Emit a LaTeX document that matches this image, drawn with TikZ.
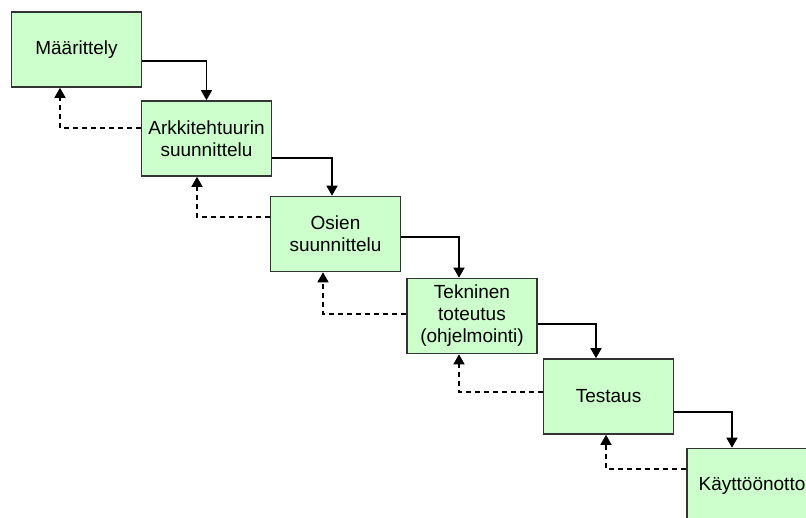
\documentclass[tikz,border=0pt]{standalone}
\usepackage{fontspec}
\setmainfont{Liberation Sans}
\usetikzlibrary{arrows.meta}

\definecolor{boxgreen}{RGB}{204,255,204}

\begin{document}
\begin{tikzpicture}[
		x=1pt, y=-1pt,
		phase/.style = {draw=black!80, fill=boxgreen, line width=1.6pt,
			minimum width=130pt, minimum height=75pt, inner sep=2pt,
			align=center, font=\fontsize{19}{22}\selectfont},
		flow/.style = {line width=1.5pt, -{Triangle[width=11pt,length=10pt]}},
		back/.style = {flow, dash pattern=on 5pt off 4pt}
	]
	\useasboundingbox (0,0) rectangle (806,517);
	\clip (0,0) rectangle (806,517);
	% Phases.
	\node[phase] (maar) at (76.5,49.5) {Määrittely};
	\node[phase] (arkk) at (206.5,138.5) {Arkkitehtuurin\\suunnittelu};
	\node[phase] (osie) at (335.5,234) {Osien\\suunnittelu};
	\node[phase] (tekn) at (472,316) {Tekninen\\toteutus\\(ohjelmointi)};
	\node[phase] (test) at (608.5,396.5) {Testaus};
	\node[phase] (kayt) at (752,486) {Käyttöönotto};
	
	% Forward.
	\draw[flow] ([yshift=-11.5pt]maar.east) -| (arkk.north);
	\draw[flow] ([yshift=-19.5pt]arkk.east) -| ([xshift=-3.5pt]osie.north);
	\draw[flow] ([yshift=-3pt]osie.east) -| ([xshift=-13pt]tekn.north);
	\draw[flow] ([yshift=-8pt]tekn.east) -| ([xshift=-12.5pt]test.north);
	\draw[flow] ([yshift=-15.5pt]test.east) -| ([xshift=-20pt]kayt.north);
	% Back.
	\draw[back] ([yshift=10.5pt]arkk.west) -| ([xshift=-16.5pt]maar.south);
	\draw[back] ([yshift=17pt]osie.west) -| ([xshift=-9.5pt]arkk.south);
	\draw[back] ([yshift=2pt]tekn.west) -| ([xshift=-12.5pt]osie.south);
	\draw[back] ([yshift=4.5pt]test.west) -| ([xshift=-13pt]tekn.south);
	\draw[back] ([yshift=17pt]kayt.west) -| ([xshift=-2.5pt]test.south);
\end{tikzpicture}
\end{document}
